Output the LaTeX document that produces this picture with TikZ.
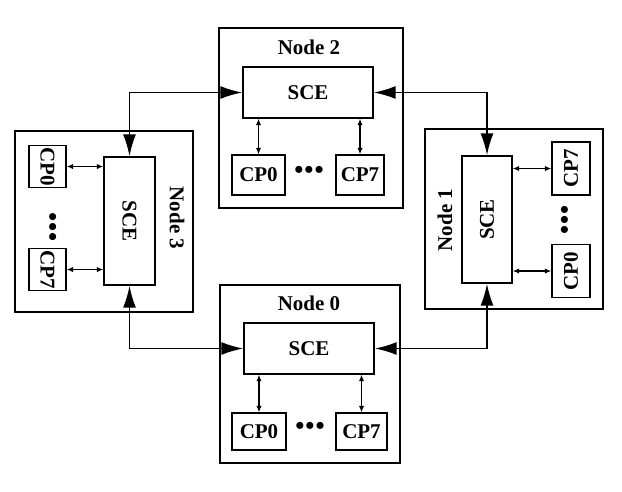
\documentclass[tikz,border=0pt]{standalone}
\usepackage{fontspec}
\setmainfont{Liberation Serif}
\usetikzlibrary{arrows.meta}
\newcommand{\mydots}{{\fontsize{26}{28}\selectfont •\kern1pt•\kern1pt•}}
\begin{document}
\begin{tikzpicture}[x=1pt,y=-1pt,
  font=\fontsize{21}{24}\selectfont\bfseries,
  box/.style={draw,line width=1.4pt,inner sep=0pt},
  link/.style={line width=1.8pt,{Latex[length=22pt,width=13pt]}-{Latex[length=22pt,width=13pt]}},
  small/.style={line width=1.4pt,{Latex[length=6.5pt,width=5.5pt]}-{Latex[length=6.5pt,width=5.5pt]}},
  lbl/.style={inner sep=0pt}]
\useasboundingbox (0,0) rectangle (622,491);
% Node 2 (top)
\node[box,minimum width=184pt,minimum height=180pt] (n2) at (311,118) {};
\node[lbl] (n2l) at (309,47) {Node 2};
\node[box,minimum width=130pt,minimum height=51pt] (s2) at (308,92.5) {SCE};
\node[box,minimum width=53pt,minimum height=40pt] (n2a) at (258.5,175) {CP0};
\node[box,minimum width=48pt,minimum height=40pt] (n2b) at (360,175) {CP7};
\node[lbl] (n2d) at (309,172) {\mydots};
\draw[small] (s2.south -| n2a) -- (n2a.north);
\draw[small] (s2.south -| n2b) -- (n2b.north);
% Node 0 (bottom)
\node[box,minimum width=180pt,minimum height=178pt] (n0) at (310,374) {};
\node[lbl] (n0l) at (309,303) {Node 0};
\node[box,minimum width=130pt,minimum height=51pt] (s0) at (309,348.5) {SCE};
\node[box,minimum width=54pt,minimum height=37pt] (n0a) at (259,431.5) {CP0};
\node[box,minimum width=51pt,minimum height=37pt] (n0b) at (361.5,431.5) {CP7};
\node[lbl] (n0d) at (310,428) {\mydots};
\draw[small] (s0.south -| n0a) -- (n0a.north);
\draw[small] (s0.south -| n0b) -- (n0b.north);
% Node 3 (left)
\node[box,minimum width=178pt,minimum height=181pt] (n3) at (104,221.5) {};
\node[lbl,rotate=-90] (n3l) at (177,218) {Node 3};
\node[box,minimum width=51pt,minimum height=128pt] (s3) at (129.5,221) {};
\node[lbl,rotate=-90] (s3t) at (s3) {SCE};
\node[box,minimum width=37pt,minimum height=42pt] (n3a) at (47.5,166.5) {};
\node[lbl,rotate=-90] (n3at) at (n3a) {CP0};
\node[box,minimum width=37pt,minimum height=42pt] (n3b) at (47.5,269.5) {};
\node[lbl,rotate=-90] (n3bt) at (n3b) {CP7};
\node[lbl,rotate=-90] (n3d) at (51,227) {\mydots};
\draw[small] (n3a.east) -- (n3a.east -| s3.west);
\draw[small] (n3b.east) -- (n3b.east -| s3.west);
% Node 1 (right)
\node[box,minimum width=178pt,minimum height=180pt] (n1) at (514,219) {};
\node[lbl,rotate=90] (n1l) at (445,220) {Node 1};
\node[box,minimum width=50pt,minimum height=127pt] (s1) at (487,219.5) {};
\node[lbl,rotate=90] (s1t) at (s1) {SCE};
\node[box,minimum width=38pt,minimum height=53pt] (n1a) at (571,271) {};
\node[lbl,rotate=90] (n1at) at (n1a) {CP0};
\node[box,minimum width=38pt,minimum height=53pt] (n1b) at (571,168.5) {};
\node[lbl,rotate=90] (n1bt) at (n1b) {CP7};
\node[lbl,rotate=90] (n1d) at (567,220) {\mydots};
\draw[small] (n1a.west -| s1.east) -- (n1a.west);
\draw[small] (n1b.west -| s1.east) -- (n1b.west);
% ring links
\draw[link] (s3.north) |- (s2.west);
\draw[link] (s2.east) -| (s1.north);
\draw[link] (s3.south) |- (s0.west);
\draw[link] (s0.east) -| (s1.south);
\end{tikzpicture}
\end{document}
